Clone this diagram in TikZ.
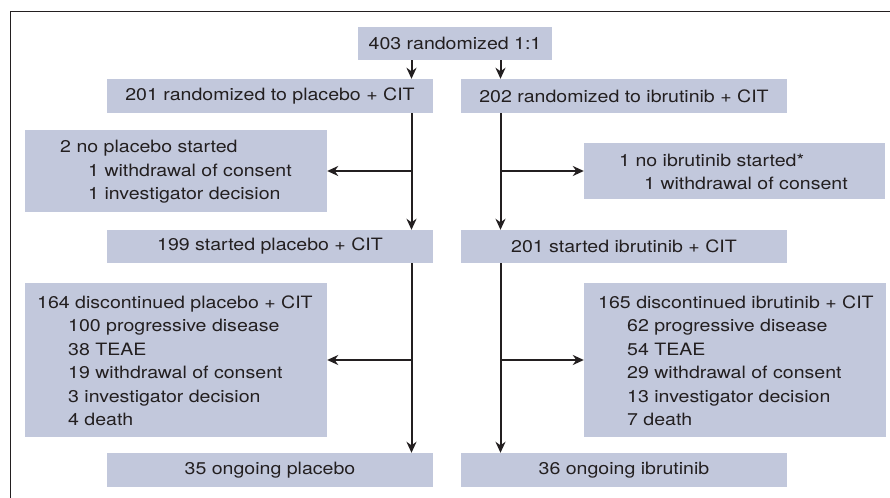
\documentclass[tikz,border=0pt]{standalone}
\usepackage{fontspec}
\setmainfont[FakeStretch=1.15]{TeX Gyre Heros}
\usetikzlibrary{arrows.meta}
\definecolor{boxfill}{RGB}{194,200,220}
\definecolor{ink}{RGB}{35,31,32}
\begin{document}
\begin{tikzpicture}[x=1bp,y=-1bp,
  box/.style={draw=none,fill=boxfill,inner sep=0pt,text=ink,font=\fontsize{17bp}{23.5bp}\selectfont},
  txt/.style={inner sep=0pt,anchor=west,align=left,text=ink,font=\fontsize{17bp}{23.5bp}\selectfont},
  arr/.style={draw=ink,line width=2bp,-{Stealth[length=11bp,width=10bp,inset=3.5bp]}}]
\useasboundingbox (0,0) rectangle (890,498);
\fill[white] (0,0) rectangle (890,498);
\draw[ink,line width=1bp] (10.5,498) -- (10.5,11.5) -- (890,11.5);
% boxes
\node[box,minimum width=194bp,minimum height=33bp] (top) at (455,43.5) {403 randomized 1:1};
\node[box,minimum width=326bp,minimum height=34bp] (r1L) at (270,96) {201 randomized to placebo + CIT};
\node[box,minimum width=326bp,minimum height=34bp] (r1R) at (624,96) {202 randomized to ibrutinib + CIT};
\node[box,minimum width=302bp,minimum height=82bp] (exL) at (176,171) {};
\node[box,minimum width=301bp,minimum height=56bp] (exR) at (734.5,171) {};
\node[box,minimum width=326bp,minimum height=33bp] (r2L) at (270,246.5) {199 started placebo + CIT};
\node[box,minimum width=326bp,minimum height=33bp] (r2R) at (624,246.5) {201 started ibrutinib + CIT};
\node[box,minimum width=302bp,minimum height=154bp] (dL) at (176,360) {};
\node[box,minimum width=302bp,minimum height=154bp] (dR) at (735,360) {};
\node[box,minimum width=326bp,minimum height=34bp] (r3L) at (270,470) {35 ongoing placebo};
\node[box,minimum width=326bp,minimum height=34bp] (r3R) at (624,470) {36 ongoing ibrutinib};
% texts
\node[txt] (exLt) at (60,172) {2 no placebo started\\\hspace*{28bp}1 withdrawal of consent\\\hspace*{28bp}1 investigator decision};
\node[txt] (exRt) at (619,172) {1 no ibrutinib started*\\\hspace*{25bp}1 withdrawal of consent};
\node[txt] (dLt) at (37,361) {164 discontinued placebo + CIT\\\hspace*{31bp}100 progressive disease\\\hspace*{31bp}38 TEAE\\\hspace*{31bp}19 withdrawal of consent\\\hspace*{31bp}3 investigator decision\\\hspace*{31bp}4 death};
\node[txt] (dRt) at (598,361) {165 discontinued ibrutinib + CIT\\\hspace*{29bp}62 progressive disease\\\hspace*{29bp}54 TEAE\\\hspace*{29bp}29 withdrawal of consent\\\hspace*{29bp}13 investigator decision\\\hspace*{29bp}7 death};
% connectors
\coordinate (xl) at (411.5,0);
\coordinate (xr) at (500.5,0);
\draw[arr] (top.south -| xl) -- (r1L.north -| xl);
\draw[arr] (top.south -| xr) -- (r1R.north -| xr);
\draw[arr] (r1L.south -| xl) -- (r2L.north -| xl);
\draw[arr] (r1R.south -| xr) -- (r2R.north -| xr);
\draw[arr] (xl |- exL.east) -- (exL.east);
\draw[arr] (xr |- exR.west) -- (exR.west);
\draw[arr] (r2L.south -| xl) -- (r3L.north -| xl);
\draw[arr] (r2R.south -| xr) -- (r3R.north -| xr);
\draw[arr] (xl |- dL.east) -- (dL.east);
\draw[arr] (xr |- dR.west) -- (dR.west);
\end{tikzpicture}
\end{document}
